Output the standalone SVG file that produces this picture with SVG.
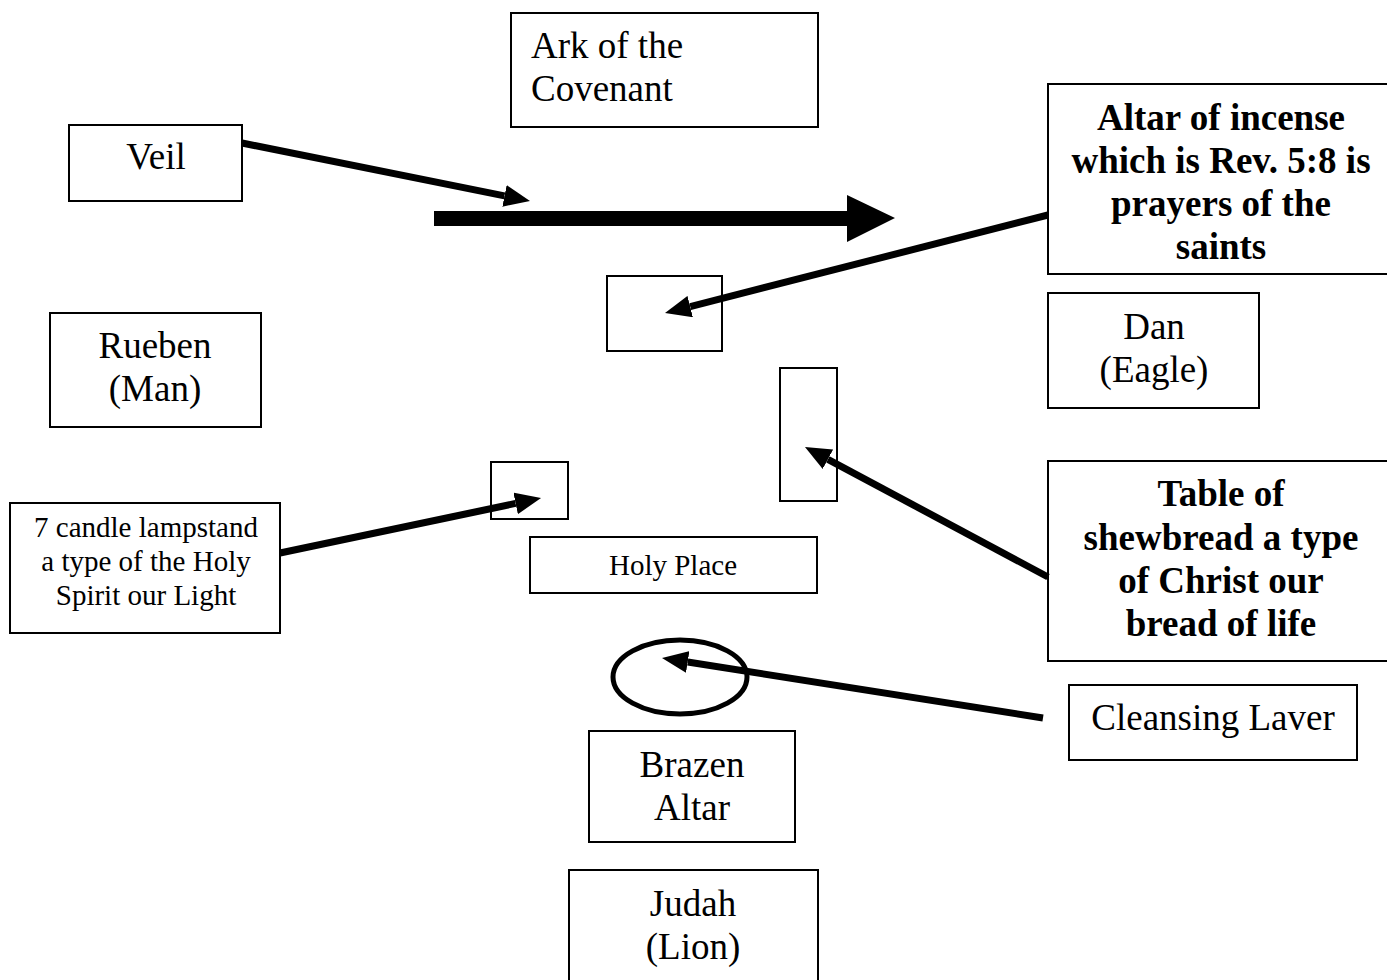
<svg xmlns="http://www.w3.org/2000/svg" width="1387" height="980" viewBox="0 0 1387 980">
<style>
.box{fill:#fff;stroke:#000;stroke-width:2}
.t{font-family:"Liberation Serif","Times New Roman",serif;font-size:37px;fill:#000}
.c{text-anchor:middle}
.b{font-weight:bold}
.s{font-size:29px}
.conn{stroke:#000;stroke-width:7;fill:none}
</style>
<defs>
<marker id="ah" markerUnits="userSpaceOnUse" viewBox="0 0 26 22" markerWidth="26" markerHeight="22" refX="0" refY="11" orient="auto">
<path d="M0,0 L26,11 L0,22 z" fill="#000"/>
</marker>
</defs>
<rect width="1387" height="980" fill="#fff"/>
<g id="ark"><rect class="box" x="511" y="13" width="307" height="114"/>
<text class="t" x="531" y="58">Ark of the</text><text class="t" x="531" y="101">Covenant</text></g>
<g id="veil"><rect class="box" x="69" y="125" width="173" height="76"/>
<text class="t c" x="156" y="169">Veil</text></g>
<g id="altar-incense"><rect class="box" x="1048" y="84" width="360" height="190"/>
<text class="t c b" x="1221" y="130">Altar of incense</text>
<text class="t c b" x="1221" y="173">which is Rev. 5:8 is</text>
<text class="t c b" x="1221" y="216">prayers of the</text>
<text class="t c b" x="1221" y="259">saints</text></g>
<g id="incense-box"><rect class="box" x="607" y="276" width="115" height="75"/></g>
<g id="rueben"><rect class="box" x="50" y="313" width="211" height="114"/>
<text class="t c" x="155" y="358">Rueben</text><text class="t c" x="155" y="401">(Man)</text></g>
<g id="dan"><rect class="box" x="1048" y="293" width="211" height="115"/>
<text class="t c" x="1154" y="339">Dan</text><text class="t c" x="1154" y="382">(Eagle)</text></g>
<g id="table-box"><rect class="box" x="780" y="368" width="57" height="133"/></g>
<g id="lamp-box"><rect class="box" x="491" y="462" width="77" height="57"/></g>
<g id="lampstand"><rect class="box" x="10" y="503" width="270" height="130"/>
<text class="t c s" x="146" y="537">7 candle lampstand</text>
<text class="t c s" x="146" y="571">a type of the Holy</text>
<text class="t c s" x="146" y="605">Spirit our Light</text></g>
<g id="holy-place"><rect class="box" x="530" y="537" width="287" height="56"/>
<text class="t c s" x="673" y="575">Holy Place</text></g>
<g id="table"><rect class="box" x="1048" y="461" width="360" height="200"/>
<text class="t c b" x="1221" y="506">Table of</text>
<text class="t c b" x="1221" y="550">shewbread a type</text>
<text class="t c b" x="1221" y="593">of Christ our</text>
<text class="t c b" x="1221" y="636">bread of life</text></g>
<g id="laver-shape"><ellipse cx="680" cy="677" rx="67" ry="37" fill="none" stroke="#000" stroke-width="5"/></g>
<g id="laver"><rect class="box" x="1069" y="685" width="288" height="75"/>
<text class="t c" x="1213" y="730">Cleansing Laver</text></g>
<g id="brazen"><rect class="box" x="589" y="731" width="206" height="111"/>
<text class="t c" x="692" y="777">Brazen</text><text class="t c" x="692" y="820">Altar</text></g>
<g id="judah"><rect class="box" x="569" y="870" width="249" height="120"/>
<text class="t c" x="693" y="916">Judah</text><text class="t c" x="693" y="959">(Lion)</text></g>
<g id="connectors">
<polygon points="434,211 847,211 847,195 895,218 847,242 847,226 434,226" fill="#000"/>
<line class="conn" x1="242" y1="143" x2="504.5" y2="195.9" marker-end="url(#ah)"/>
<line class="conn" x1="1048" y1="215" x2="690.2" y2="306.6" marker-end="url(#ah)"/>
<line class="conn" x1="280" y1="553" x2="515.6" y2="503.4" marker-end="url(#ah)"/>
<line class="conn" x1="1048" y1="577" x2="827.9" y2="459.3" marker-end="url(#ah)"/>
<line class="conn" x1="1043" y1="718" x2="687.7" y2="662" marker-end="url(#ah)"/>
</g>
</svg>
